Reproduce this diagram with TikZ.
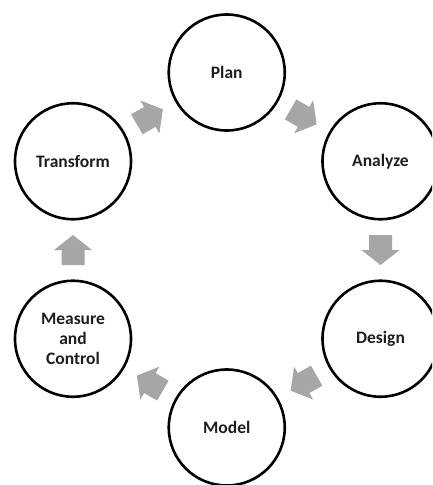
\documentclass[tikz,border=0pt]{standalone}
\usepackage{fontspec}
\setmainfont{Carlito}
\usetikzlibrary{calc}
\definecolor{arrowgray}{HTML}{A6A6A6}
\definecolor{txt}{HTML}{1E1E1E}
\begin{document}
\begin{tikzpicture}[x=1pt,y=-1pt,
  stage/.style={circle, draw=black, line width=2.6pt, minimum size=116pt, inner sep=0pt,
    align=center, text=txt, font=\bfseries\fontsize{17.5}{20}\selectfont}]
\useasboundingbox (0,0) rectangle (432,485);
\clip (0,0) rectangle (432,485);
\fill[white] (0,0) rectangle (432,485);
\node[stage] (plan)  at (226.75,72.5) {Plan};
\node[stage] (anal)  at (380.5,161.25) {Analyze};
\node[stage] (des)   at (380.5,338.75) {Design};
\node[stage] (model) at (226.75,427.5) {Model};
\node[stage] (meas)  at (73,338.75) {Measure\\and\\Control};
\node[stage] (trans) at (73,161.25) {Transform};
\foreach \a/\b [count=\i] in {trans/plan, plan/anal, anal/des, des/model, model/meas, meas/trans} {
  \path let \p1=($(\b)-(\a)$), \n1={atan2(\y1,\x1)} in \pgfextra{\xdef\arrang{\n1}};
  \coordinate (m\i) at ($(\a)!0.5!(\b)$);
  \fill[arrowgray, shift={(m\i)}, rotate=\arrang]
    (-15,-11.5) -- (0,-11.5) -- (0,-19) -- (15,0) -- (0,19) -- (0,11.5) -- (-15,11.5) -- cycle;
}
\end{tikzpicture}
\end{document}
